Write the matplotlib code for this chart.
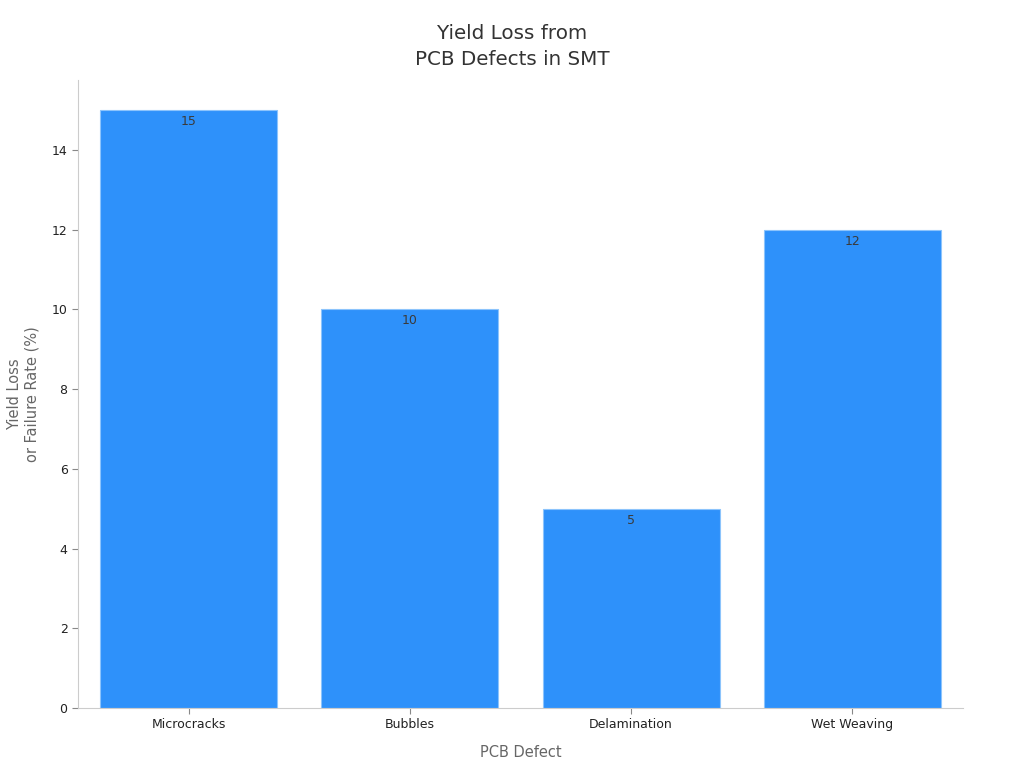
import matplotlib
matplotlib.use("Agg")
import matplotlib.pyplot as plt

categories = ["Microcracks", "Bubbles", "Delamination", "Wet Weaving"]
values = [15, 10, 5, 12]

title = "Yield Loss from\nPCB Defects in SMT"
xlabel = "PCB Defect"
ylabel = "Yield Loss\nor Failure Rate (%)"

plt.rcParams['font.family'] = ['DejaVu Sans']

fig = plt.figure(figsize=(10.24, 7.68), dpi=100)
ax = fig.add_axes([78/1024, 60/768, (963-78)/1024, (708-80)/768])

x = list(range(len(categories)))
bars = ax.bar(x, values, width=0.8, color="#2E91FA", edgecolor="#8CC4FC", linewidth=0.8)
ax.bar_label(bars, labels=[str(v) for v in values], padding=-13, fontsize=9, color="#3a3a3a")

ax.set_xlim(-0.5, len(categories) - 0.5)
ax.set_ylim(0, max(values) * 1.05)
ax.set_xticks(x)
ax.set_xticklabels(categories, fontsize=9, color="#222222")
ax.set_yticks([0, 2, 4, 6, 8, 10, 12, 14])
ax.tick_params(axis='y', labelsize=9, colors="#222222", length=4, color="#888888")
ax.tick_params(axis='x', length=4, color="#888888")

for s in ["top", "right"]:
    ax.spines[s].set_visible(False)
for s in ["left", "bottom"]:
    ax.spines[s].set_color("#CCCCCC")
    ax.spines[s].set_linewidth(0.8)

ax.set_xlabel(xlabel, fontsize=10.5, color="#666666", labelpad=10)
ax.set_ylabel(ylabel, fontsize=10.5, color="#666666", labelpad=9)
fig.suptitle(title, fontsize=14.3, color="#333333", y=0.969, linespacing=1.45)

fig.savefig("out.png", dpi=100)
